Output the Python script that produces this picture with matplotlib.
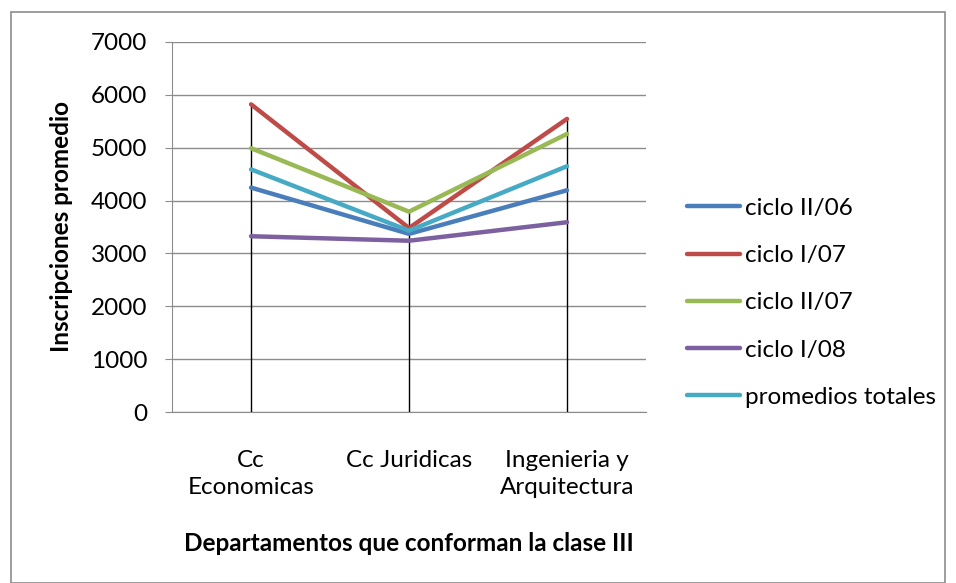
import numpy as np
import matplotlib
matplotlib.use('Agg')
import matplotlib.pyplot as plt
from matplotlib.patches import Rectangle

plt.rcParams['font.family'] = ['Lato', 'DejaVu Sans']

# Data
categories = ['Cc\nEconomicas', 'Cc Juridicas', 'Ingenieria y\nArquitectura']
series_names = ['ciclo II/06', 'ciclo I/07', 'ciclo II/07', 'ciclo I/08', 'promedios totales']
ciclo_ii_06 = [4245, 3370, 4195]
ciclo_i_07 = [5820, 3480, 5545]
ciclo_ii_07 = [4990, 3790, 5260]
ciclo_i_08 = [3325, 3240, 3590]
promedios_totales = [4590, 3430, 4650]

colors = ['#4A7EBB', '#BE4B48', '#98B954', '#7D60A0', '#46AAC5']
all_series = [ciclo_ii_06, ciclo_i_07, ciclo_ii_07, ciclo_i_08, promedios_totales]

FS = 17.5

fig = plt.figure(figsize=(9.56, 5.83), dpi=100)
ax = fig.add_axes([0.18, 0.2933, 0.4957, 0.6347])

x = np.arange(len(categories))

# drop lines from 0 to the highest value at each category
tops = np.max(np.array(all_series), axis=0)
ax.vlines(x, 0, tops, colors='black', linewidth=1.0, zorder=2)

for name, vals, c in zip(series_names, all_series, colors):
    ax.plot(x, vals, color=c, linewidth=3.2, solid_capstyle='round', label=name, zorder=3)

ax.set_xlim(-0.5, 2.5)
ax.set_ylim(0, 7000)
ax.set_yticks(np.arange(0, 7001, 1000))
ax.yaxis.grid(True, color='#8c8c8c', linewidth=1.0)
ax.set_axisbelow(True)
ax.set_xticks(x)
ax.set_xticklabels(categories, fontsize=FS, linespacing=1.4)
ax.tick_params(axis='x', length=0, pad=27)
ax.tick_params(axis='y', labelsize=FS, length=5, color='#8c8c8c', pad=13)

for side in ['top', 'right']:
    ax.spines[side].set_visible(False)
ax.spines['left'].set_color('#8c8c8c')
ax.spines['bottom'].set_color('#8c8c8c')

ax.set_ylabel('Inscripciones promedio', fontsize=FS, fontweight='bold', labelpad=13)
ax.set_xlabel('Departamentos que conforman la clase III', fontsize=FS, fontweight='bold', labelpad=24)

ax.legend(loc='center left', bbox_to_anchor=(1.04, 0.295), frameon=False, fontsize=FS,
          handlelength=2.2, handletextpad=0.2, labelspacing=1.08)

fig.patches.append(Rectangle((0.011, 0.0), 0.978, 0.98, transform=fig.transFigure,
                             fill=False, edgecolor='#8c8c8c', linewidth=1.2))

fig.savefig('out.png', dpi=100)
